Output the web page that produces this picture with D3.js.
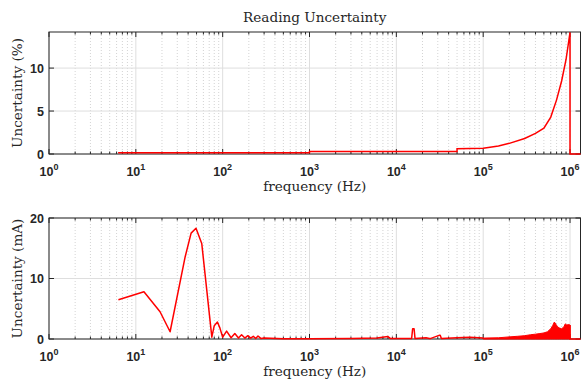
<!DOCTYPE html>
<html>
<head>
<meta charset="utf-8">
<script src="https://cdn.jsdelivr.net/npm/d3@7"></script>
<style>
  body { margin: 0; background: #fff; }
</style>
</head>
<body>
<div id="chart"></div>
<script>
// x axis: decades 10^0 .. 10^6, axis runs a little past 1 MHz
const decades = [0, 1, 2, 3, 4, 5, 6];
const freqMax = 1.32e6;

// top panel - reading uncertainty (%)
const pctFreq = [6.25, 1000, 1000, 50000, 50000, 100000, 150000, 200000, 300000, 400000, 500000,
                 600000, 700000, 800000, 900000, 1000000, 1000000, 1320000];
const pctValue = [0.15, 0.15, 0.3, 0.3, 0.62, 0.66, 0.93, 1.24, 1.8, 2.4, 3.0,
                  4.3, 6.3, 8.5, 11.0, 14.15, 0, 0];
const pctTicks = [0, 5, 10];

// bottom panel - uncertainty (mA), low frequency part
const maFreq = [6.3, 12.4, 19, 24.8, 37, 43.3, 49.3, 57.4, 75, 80, 87, 93, 100, 111, 125, 138, 152,
                165, 180, 195, 210, 225, 240, 255, 275, 300, 500, 1000, 3000, 6000, 8000, 8500, 9000,
                15000, 15400, 16000, 16400, 22000, 24000, 25000, 31000, 32000, 33000, 50000, 70000, 100000];
const maValue = [6.5, 7.8, 4.5, 1.2, 13.6, 17.5, 18.3, 15.8, 0.3, 2.2, 2.8, 1.8, 0.3, 1.3, 0.2, 0.9, 0.15,
                 0.7, 0.15, 0.55, 0.15, 0.45, 0.1, 0.5, 0.1, 0.15, 0.05, 0.05, 0.1, 0.15, 0.4, 0.1, 0.1,
                 0.1, 1.7, 1.7, 0.1, 0.2, 0.1, 0.1, 0.6, 0.6, 0.1, 0.2, 0.3, 0.15];
// high frequency part is dense noise, drawn as its envelope
const envFreq = [100000, 150000, 200000, 250000, 300000, 350000, 400000, 450000, 500000, 550000,
                 600000, 630000, 660000, 690000, 720000, 760000, 800000, 850000, 880000, 920000, 960000, 1000000];
const envValue = [0.15, 0.2, 0.35, 0.45, 0.55, 0.7, 0.8, 0.9, 1.0, 1.2,
                  1.7, 2.2, 2.8, 2.4, 2.0, 1.8, 1.7, 2.0, 2.5, 2.3, 2.4, 2.3];
const tailFreq = [1000000, 1000000, 1320000];
const tailValue = [2.3, 0, 0];
const maTicks = [0, 10, 20];

const width = 583;
const height = 381;
const left = 49, right = 580.5;
const axisColor = "#262626";
const red = "#ff0000";
const serif = "DejaVu Serif, serif";
const labelSize = "13.6px";

let svg = d3.select("#chart").append("svg")
    .attr("width", width)
    .attr("height", height);

let x = d3.scaleLog()
    .domain([1, freqMax])
    .range([left, right]);

// minor positions 2..9 x 10^k
let minors = [];
decades.forEach(k => {
    for (let m = 2; m <= 9; m++) {
        let v = m * Math.pow(10, k);
        if (v < freqMax) minors.push(v);
    }
});
let majors = decades.map(k => Math.pow(10, k));

const drawPanel = (top, bottom, yMax, yTicks, yLabel) => {
    let y = d3.scaleLinear()
        .domain([0, yMax])
        .range([bottom, top]);

    let g = svg.append("g");

    // grid
    g.selectAll(".minor-grid").data(minors).enter().append("line")
        .attr("x1", d => x(d)).attr("x2", d => x(d))
        .attr("y1", top).attr("y2", bottom)
        .attr("stroke", "#c8c8c8")
        .attr("stroke-width", 0.8)
        .attr("stroke-dasharray", "1,2");
    g.selectAll(".major-grid").data(majors).enter().append("line")
        .attr("x1", d => x(d)).attr("x2", d => x(d))
        .attr("y1", top).attr("y2", bottom)
        .attr("stroke", "#dedede")
        .attr("stroke-width", 1);
    g.selectAll(".y-grid").data(yTicks).enter().append("line")
        .attr("x1", left).attr("x2", right)
        .attr("y1", d => y(d)).attr("y2", d => y(d))
        .attr("stroke", "#dedede")
        .attr("stroke-width", 1);

    // box
    g.append("rect")
        .attr("x", left).attr("y", top)
        .attr("width", right - left).attr("height", bottom - top)
        .attr("fill", "none")
        .attr("stroke", axisColor)
        .attr("stroke-width", 1);

    // inward ticks on all four sides
    [[bottom, -1], [top, 1]].forEach(([yy, dir]) => {
        g.selectAll(null).data(majors).enter().append("line")
            .attr("x1", d => x(d)).attr("x2", d => x(d))
            .attr("y1", yy).attr("y2", yy + dir * 5)
            .attr("stroke", axisColor);
        g.selectAll(null).data(minors).enter().append("line")
            .attr("x1", d => x(d)).attr("x2", d => x(d))
            .attr("y1", yy).attr("y2", yy + dir * 2.5)
            .attr("stroke", axisColor);
    });
    [[left, 1], [right, -1]].forEach(([xx, dir]) => {
        g.selectAll(null).data(yTicks).enter().append("line")
            .attr("x1", xx).attr("x2", xx + dir * 5)
            .attr("y1", d => y(d)).attr("y2", d => y(d))
            .attr("stroke", axisColor);
    });

    // x tick labels 10^k
    let xl = g.selectAll(".xlab").data(decades).enter().append("text")
        .attr("x", d => x(Math.pow(10, d)))
        .attr("y", bottom + 22)
        .attr("text-anchor", "middle")
        .style("font-family", "Liberation Sans, Arial, sans-serif")
        .style("font-weight", "bold")
        .style("font-size", "12.5px")
        .attr("fill", axisColor);
    xl.append("tspan").text("10");
    xl.append("tspan").attr("dy", -6).style("font-size", "9px").text(d => d);

    // y tick labels
    g.selectAll(".ylab").data(yTicks).enter().append("text")
        .attr("x", left - 5)
        .attr("y", d => y(d))
        .attr("dy", "0.36em")
        .attr("text-anchor", "end")
        .style("font-family", "Liberation Sans, Arial, sans-serif")
        .style("font-weight", "bold")
        .style("font-size", "12.5px")
        .attr("fill", axisColor)
        .text(d => d);

    // axis labels
    g.append("text")
        .attr("x", (left + right) / 2)
        .attr("y", bottom + 37)
        .attr("text-anchor", "middle")
        .style("font-family", serif)
        .style("font-size", labelSize)
        .attr("fill", axisColor)
        .text("frequency (Hz)");
    g.append("text")
        .attr("transform", "translate(22," + ((top + bottom) / 2) + ")rotate(-90)")
        .attr("text-anchor", "middle")
        .style("font-family", serif)
        .style("font-size", labelSize)
        .attr("fill", axisColor)
        .text(yLabel);

    return y;
};

// top panel
let yTop = drawPanel(32, 154, 14.2, pctTicks, "Uncertainty (%)");
let lineTop = d3.line()
    .x(d => x(d[0]))
    .y(d => yTop(d[1]));
svg.append("path")
    .datum(d3.zip(pctFreq, pctValue))
    .attr("d", lineTop)
    .attr("fill", "none")
    .attr("stroke", red)
    .attr("stroke-width", 1.5);

svg.append("text")
    .attr("x", (left + right) / 2)
    .attr("y", 22)
    .attr("text-anchor", "middle")
    .style("font-family", serif)
    .style("font-size", labelSize)
    .attr("fill", axisColor)
    .text("Reading Uncertainty");

// bottom panel
let yBot = drawPanel(218, 339, 20, maTicks, "Uncertainty (mA)");
let lineBot = d3.line()
    .x(d => x(d[0]))
    .y(d => yBot(d[1]));
svg.append("path")
    .datum(d3.zip(maFreq, maValue))
    .attr("d", lineBot)
    .attr("fill", "none")
    .attr("stroke", red)
    .attr("stroke-width", 1.5)
    .attr("stroke-linejoin", "round");
svg.append("path")
    .datum(d3.zip(envFreq, envValue))
    .attr("d", d3.area().x(d => x(d[0])).y0(yBot(0)).y1(d => yBot(d[1])))
    .attr("fill", red)
    .attr("stroke", red)
    .attr("stroke-width", 1);
svg.append("path")
    .datum(d3.zip(tailFreq, tailValue))
    .attr("d", lineBot)
    .attr("fill", "none")
    .attr("stroke", red)
    .attr("stroke-width", 1.5);
</script>
</body>
</html>
